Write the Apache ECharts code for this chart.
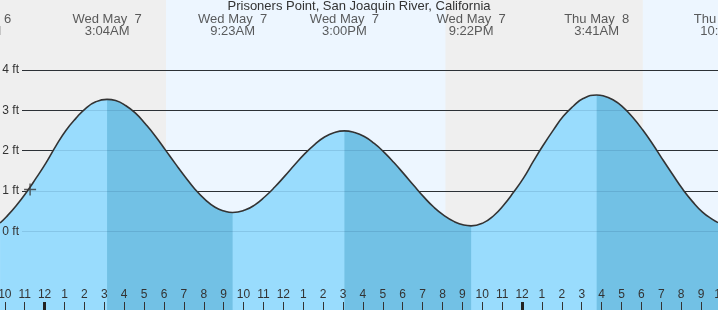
<!DOCTYPE html>
<html>
<head>
<meta charset="utf-8">
<script src="https://cdn.jsdelivr.net/npm/echarts@6/dist/echarts.min.js"></script>
<style>
html,body{margin:0;padding:0;background:#efefef;}
#chart{width:718px;height:310px;}
</style>
</head>
<body>
<div id="chart"></div>
<script>
// ---- data (hours since Wed May 7 00:00, feet) ----
const titleText = 'Prisoners Point, San Joaquin River, California';
const tideHours = [-2.31,-2,-1.5,-1,-0.5,0,0.5,1,1.5,2,2.5,3.07,3.5,4,4.5,5,5.5,6,6.5,7,7.5,8,8.5,9,9.38,
  10,10.5,11,11.5,12,12.5,13,13.5,14,14.5,15,15.5,16,16.5,17,17.5,18,18.5,19,19.5,20,20.5,21,21.37,
  22,22.5,23,23.5,24,24.5,25,25.5,26,26.5,27,27.68,28,28.5,29,29.5,30,30.5,31,31.5,32,32.5,33,33.5,33.78];
const tideFeet  = [0.21,0.36,0.64,0.96,1.32,1.70,2.12,2.50,2.80,3.05,3.21,3.27,3.24,3.12,2.93,2.66,2.36,2.02,1.68,1.35,1.04,0.79,0.60,0.50,0.47,
  0.53,0.66,0.86,1.10,1.37,1.65,1.92,2.15,2.34,2.45,2.49,2.45,2.35,2.18,1.96,1.70,1.42,1.13,0.85,0.60,0.40,0.25,0.16,0.14,
  0.22,0.39,0.65,0.97,1.32,1.74,2.14,2.51,2.85,3.10,3.29,3.38,3.36,3.26,3.08,2.82,2.51,2.16,1.78,1.41,1.05,0.74,0.48,0.30,0.22];
const eventHours = [-3.37, 3.07, 9.38, 15.0, 21.37, 27.68, 34.2];
const eventDays  = ['Tue May  6','Wed May  7','Wed May  7','Wed May  7','Wed May  7','Thu May  8','Thu May  8'];
const eventClock = ['8:38PM','3:04AM','9:23AM','3:00PM','9:22PM','3:41AM','10:12AM'];
const eventKind  = ['low','high','low','high','low','high','low'];
const sunrise = [6.03, 30.0];
const sunset  = [20.08, 44.1];
const hourLabels = ['12','1','2','3','4','5','6','7','8','9','10','11','12','1','2','3','4','5','6','7','8','9','10','11'];
const feetTicks = [0,1,2,3,4];
const nowHour = -0.8, nowFeet = 1.04;

// ---- layout constants ----
const PXH = 19.894;           // px per hour
const X0 = 46;                // px of hour 0 (events)
const XT = 44.6;              // px of hour 0 (ticks)
const W = 718, H = 310;
const Y0 = 231.5, PXF = 40.4; // px of 0 ft, px per ft
const xMin = -X0 / PXH, xMax = (W - X0) / PXH;
const yMin = -(H - Y0) / PXF, yMax = Y0 / PXF;

const FONT = 'Liberation Sans';
const lightFill = '#99dcfd', darkFill = '#72c1e5', dayBg = '#edf6ff';

const tideData = tideHours.map((h, i) => [h, tideFeet[i]]);
const falling = [];
for (let i = 0; i < eventHours.length - 1; i++) {
  if (eventKind[i] === 'high') falling.push([eventHours[i], eventHours[i + 1]]);
}
const darkData = tideHours.map((h, i) => {
  const inFall = falling.some(([a, b]) => h >= a - 1e-6 && h <= b + 1e-6);
  return [h, inFall ? tideFeet[i] : '-'];
});
const dayAreas = sunrise.map((s, i) => [{ xAxis: s }, { xAxis: sunset[i] }]);

const chart = echarts.init(document.getElementById('chart'), null, { renderer: 'canvas' });
chart.setOption({
  animation: false,
  backgroundColor: '#efefef',
  textStyle: { fontFamily: FONT },
  title: {
    text: titleText, left: 'center', top: 0, padding: 0,
    textStyle: { fontFamily: FONT, fontSize: 13, fontWeight: 'normal', color: '#333' }
  },
  grid: [
    { left: 0, right: 0, top: 0, bottom: 0, outerBoundsMode: 'none' },
    { left: 22, right: 0, top: Y0 - 4 * PXF, bottom: H - Y0, outerBoundsMode: 'none' },
    { left: XT - 3 * PXH, right: W - (XT + 34 * PXH), top: 0, bottom: 0, outerBoundsMode: 'none' },
    { left: XT - 24 * PXH, right: W - (XT + 48 * PXH), top: 0, bottom: 0, outerBoundsMode: 'none' }
  ],
  xAxis: [
    { type: 'value', gridIndex: 0, min: xMin, max: xMax, show: false },
    { type: 'value', gridIndex: 2, min: -3, max: 34, interval: 1, position: 'bottom', z: 12,
      axisLine: { show: false }, splitLine: { show: false },
      axisTick: { show: true, inside: true, length: 8, lineStyle: { color: '#333', width: 1 } },
      axisLabel: { show: true, inside: true, margin: 9, interval: 0, fontSize: 12, color: '#333', fontFamily: FONT,
        formatter: v => hourLabels[((v % 24) + 24) % 24] } },
    { type: 'value', gridIndex: 3, min: -24, max: 48, interval: 24, position: 'bottom', z: 12,
      axisLine: { show: false }, splitLine: { show: false }, axisLabel: { show: false },
      axisTick: { show: true, inside: true, length: 8, lineStyle: { color: '#222', width: 3 } } },
    { type: 'value', gridIndex: 1, min: 0, max: 1, show: false }
  ],
  yAxis: [
    { type: 'value', gridIndex: 1, position: 'left', min: feetTicks[0], max: feetTicks[feetTicks.length - 1], interval: 1, z: 3,
      axisLine: { show: false }, axisTick: { show: false }, axisLabel: { show: false },
      splitLine: { show: true, lineStyle: { color: '#333', width: 1 } } },
    { type: 'value', gridIndex: 1, position: 'left', offset: 0, min: feetTicks[0], max: feetTicks[feetTicks.length - 1], interval: 1, z: 8,
      axisLine: { show: false }, axisTick: { show: false },
      axisLabel: { show: true, margin: 3, fontSize: 12, color: '#333', fontFamily: FONT, formatter: v => v + ' ft' },
      splitLine: { show: true, lineStyle: { color: 'rgba(0,40,80,0.12)', width: 1 } } },
    { type: 'value', gridIndex: 0, min: yMin, max: yMax, show: false },
    { type: 'value', gridIndex: 2, min: 0, max: 1, show: false },
    { type: 'value', gridIndex: 3, min: 0, max: 1, show: false }
  ],
  series: [
    { type: 'line', name: 'light', xAxisIndex: 0, yAxisIndex: 2, data: tideData, smooth: true, symbol: 'none', z: 4,
      lineStyle: { width: 0 }, areaStyle: { color: lightFill, opacity: 1, origin: 'start' },
      markArea: { silent: true, z: 1, itemStyle: { color: dayBg }, data: dayAreas } },
    { type: 'line', name: 'dark', xAxisIndex: 0, yAxisIndex: 2, data: darkData, smooth: true, symbol: 'none', z: 6,
      connectNulls: false, lineStyle: { width: 0 }, areaStyle: { color: darkFill, opacity: 1, origin: 'start' } },
    { type: 'line', name: 'curve', xAxisIndex: 0, yAxisIndex: 2, data: tideData, smooth: true, symbol: 'none', z: 10,
      lineStyle: { color: '#333', width: 1.6 } },
    { type: 'scatter', xAxisIndex: 0, yAxisIndex: 2, z: 11, data: [[nowHour, nowFeet]],
      symbol: 'path://M0,4.4H10V5.6H0Z M4.4,0H5.6V10H4.4Z', symbolSize: 12, itemStyle: { color: '#333' } },
    { type: 'scatter', xAxisIndex: 0, yAxisIndex: 2, z: 11, clip: false, symbolSize: 0,
      data: eventHours.map(h => [h, yMax]),
      label: { show: true, position: 'bottom', distance: 13, fontSize: 13, lineHeight: 12, color: '#333', fontFamily: FONT,
        align: 'center',
        formatter: p => eventDays[p.dataIndex] + '\n' + eventClock[p.dataIndex] } }
  ]
});
</script>
</body>
</html>
